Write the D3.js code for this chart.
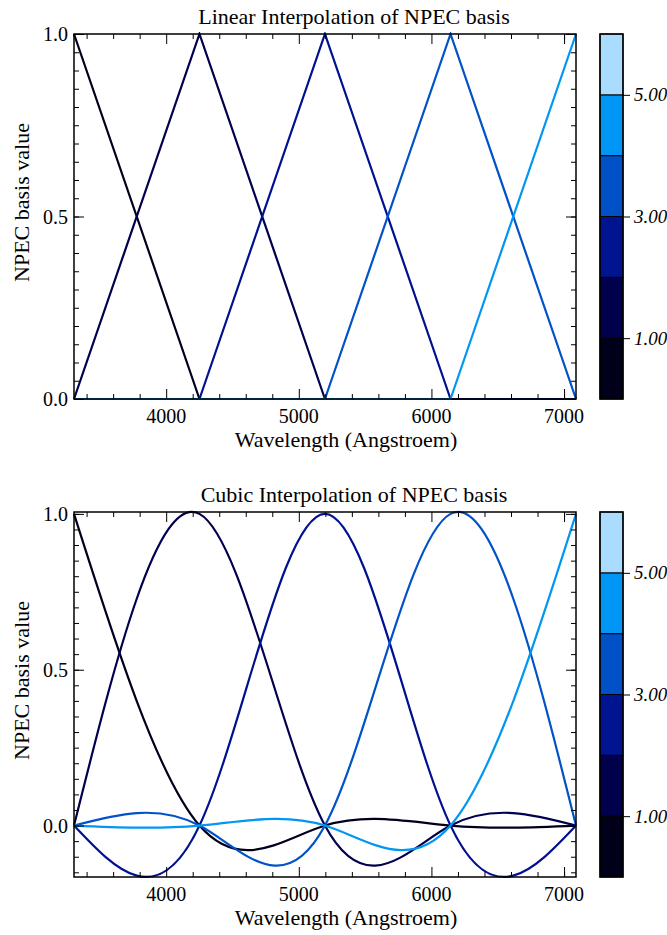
<!DOCTYPE html>
<html>
<head>
<meta charset="utf-8">
<script src="https://cdn.jsdelivr.net/npm/d3@7"></script>
<style>
  html, body { margin: 0; padding: 0; background: #fff; }
  svg { display: block; }
  text { font-family: "Liberation Serif", "Times New Roman", serif; fill: #000; }
</style>
</head>
<body>
<svg id="chart" width="667" height="935"></svg>
<script>
// ---------------- data ----------------
const nodeWavelengths = [3305, 4251, 5197, 6144, 7090];
// node values of each NPEC basis function (one row per basis)
const basis0 = [1, 0, 0, 0, 0];
const basis1 = [0, 1, 0, 0, 0];
const basis2 = [0, 0, 1, 0, 0];
const basis3 = [0, 0, 0, 1, 0];
const basis4 = [0, 0, 0, 0, 1];
const basisSeries = [basis0, basis1, basis2, basis3, basis4];
const seriesColors = ["#00001c", "#00004e", "#001190", "#0052c8", "#0096f2"];

const xDomain = [3305, 7090];
const xMajorTicks = [4000, 5000, 6000, 7000];
const xMinorTicks = [3400, 3600, 3800, 4200, 4400, 4600, 4800, 5200, 5400, 5600, 5800, 6200, 6400, 6600, 6800, 7000];
const yMajorTicks = [0.0, 0.5, 1.0];
const linearYDomain = [0, 1];
const cubicYDomain = [-0.165, 1.006];

const colorbarBands = [0, 1, 2, 3, 4, 5];
const colorbarColors = ["#00001a", "#00004c", "#001390", "#0050c8", "#0096f5", "#aadcff"];
const colorbarTicks = [1, 3, 5];
const colorbarDomain = [0, 6];

const titles = ["Linear Interpolation of NPEC basis", "Cubic Interpolation of NPEC basis"];
const xTitle = "Wavelength (Angstroem)";
const yTitle = "NPEC basis value";

// ---------------- layout ----------------
const svg = d3.select("#chart");
const left = 74, right = 576;
const panels = [
  { top: 34, bottom: 399, yDomain: linearYDomain, curve: d3.curveLinear, title: titles[0] },
  { top: 512, bottom: 877, yDomain: cubicYDomain, curve: d3.curveNatural, title: titles[1] }
];
const cbLeft = 600, cbRight = 623;

function range(a, b, step) {
  const out = [];
  for (let v = a; v <= b + 1e-9; v += step) out.push(Math.round(v * 1000) / 1000);
  return out;
}

panels.forEach((p, pi) => {
  const g = svg.append("g");
  const x = d3.scaleLinear().domain(xDomain).range([left, right]);
  const y = d3.scaleLinear().domain(p.yDomain).range([p.bottom, p.top]);
  const yMinor = range(-0.15, 1.0, 0.05).filter(v => v >= p.yDomain[0] - 1e-9 && v <= p.yDomain[1] + 1e-9);

  // curves
  const line = d3.line()
    .x((d, i) => x(nodeWavelengths[i]))
    .y(d => y(d))
    .curve(p.curve);
  const clipId = "clip" + pi;
  svg.append("clipPath").attr("id", clipId).append("rect")
    .attr("x", left - 2).attr("y", p.top - 2).attr("width", right - left + 4).attr("height", p.bottom - p.top + 4);
  g.append("g").attr("clip-path", `url(#${clipId})`)
    .selectAll("path").data(basisSeries).join("path")
    .attr("d", d => line(d))
    .attr("fill", "none")
    .attr("stroke", (d, i) => seriesColors[i])
    .attr("stroke-width", 2.2)
    .attr("stroke-linejoin", "miter");

  // axes (ticks inward on all four sides)
  const mk = (axisFn, scale, ticks, size, transform) => {
    const a = g.append("g").attr("transform", transform)
      .call(axisFn(scale).tickValues(ticks).tickSize(-size).tickFormat(""));
    a.select(".domain").remove();
    a.selectAll("line").attr("stroke", "#000").attr("stroke-width", 1);
    return a;
  };
  mk(d3.axisBottom, x, xMajorTicks, 10, `translate(0,${p.bottom})`);
  mk(d3.axisBottom, x, xMinorTicks, 5, `translate(0,${p.bottom})`);
  mk(d3.axisTop, x, xMajorTicks, 10, `translate(0,${p.top})`);
  mk(d3.axisTop, x, xMinorTicks, 5, `translate(0,${p.top})`);
  mk(d3.axisLeft, y, yMajorTicks, 10, `translate(${left},0)`);
  mk(d3.axisLeft, y, yMinor, 5, `translate(${left},0)`);
  mk(d3.axisRight, y, yMajorTicks, 10, `translate(${right},0)`);
  mk(d3.axisRight, y, yMinor, 5, `translate(${right},0)`);

  // frame
  g.append("rect").attr("x", left).attr("y", p.top)
    .attr("width", right - left).attr("height", p.bottom - p.top)
    .attr("fill", "none").attr("stroke", "#000").attr("stroke-width", 1.5);

  // tick labels
  g.selectAll("text.xt").data(xMajorTicks).join("text")
    .attr("x", d => x(d)).attr("y", p.bottom + 24)
    .attr("text-anchor", "middle").attr("font-size", 20)
    .text(d => d);
  g.selectAll("text.yt").data(yMajorTicks).join("text")
    .attr("x", left - 6).attr("y", d => y(d) + 7)
    .attr("text-anchor", "end").attr("font-size", 20)
    .text(d => d3.format(".1f")(d));

  // titles
  g.append("text").attr("x", 354).attr("y", p.top - 10)
    .attr("text-anchor", "middle").attr("font-size", 22).text(p.title);
  g.append("text").attr("x", 346).attr("y", p.bottom + 48)
    .attr("text-anchor", "middle").attr("font-size", 22).text(xTitle);
  g.append("text")
    .attr("transform", `translate(29,${(p.top + p.bottom) / 2 - 14}) rotate(-90)`)
    .attr("text-anchor", "middle").attr("font-size", 22).text(yTitle);

  // colorbar
  const cy = d3.scaleLinear().domain(colorbarDomain).range([p.bottom, p.top]);
  g.selectAll("rect.band").data(colorbarBands).join("rect")
    .attr("x", cbLeft).attr("width", cbRight - cbLeft)
    .attr("y", d => cy(d + 1)).attr("height", d => cy(d) - cy(d + 1))
    .attr("fill", (d, i) => colorbarColors[i])
    .attr("stroke", "#000").attr("stroke-width", 1);
  const cax = g.append("g").attr("transform", `translate(${cbRight},0)`)
    .call(d3.axisRight(cy).tickValues(colorbarTicks).tickSize(7).tickPadding(4).tickFormat(d3.format(".2f")));
  cax.select(".domain").remove();
  cax.selectAll("line").attr("stroke", "#000");
  cax.selectAll("text").attr("font-size", 19).attr("font-style", "italic")
    .attr("font-family", "Liberation Serif, serif").attr("fill", "#000");
  g.append("rect").attr("x", cbLeft).attr("y", p.top)
    .attr("width", cbRight - cbLeft).attr("height", p.bottom - p.top)
    .attr("fill", "none").attr("stroke", "#000").attr("stroke-width", 1.5);
});
</script>
</body>
</html>
